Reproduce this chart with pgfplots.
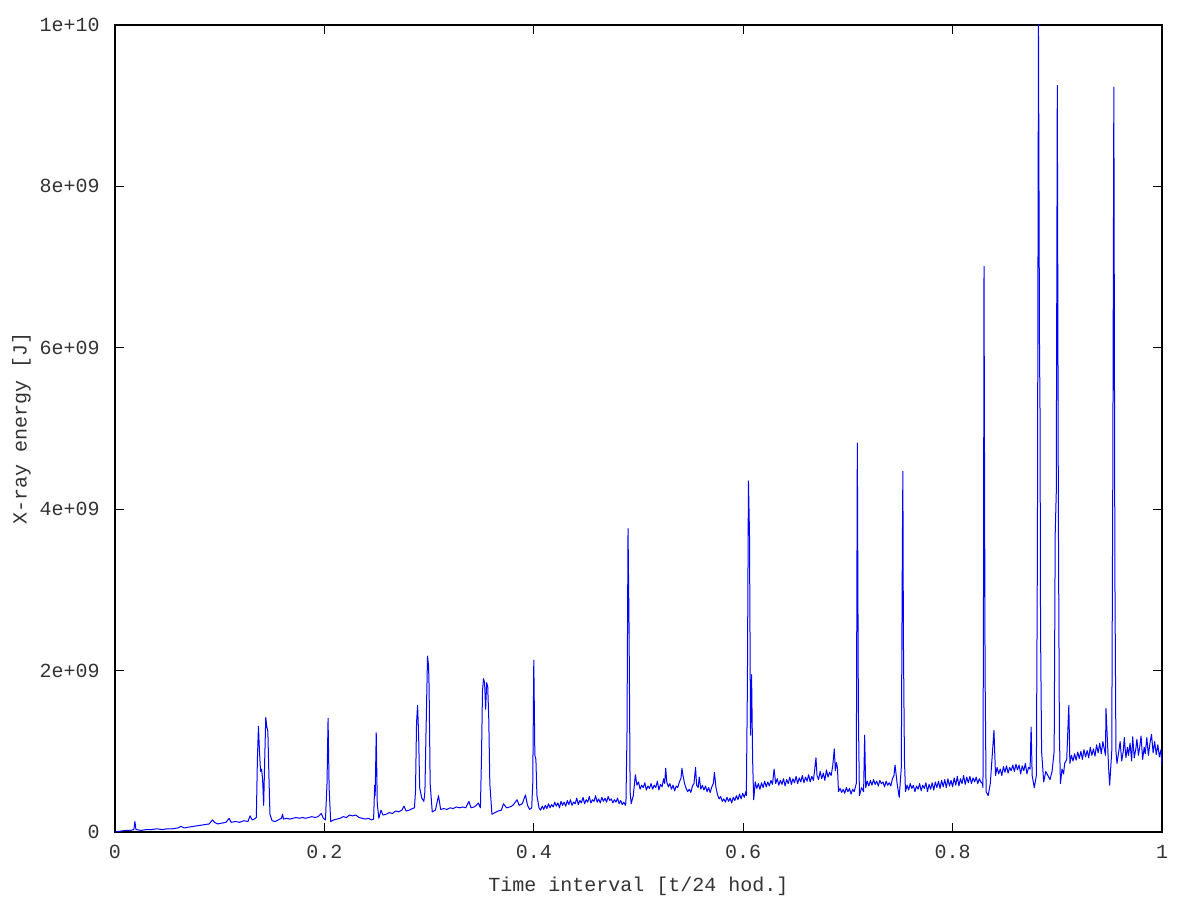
\documentclass[border=0pt]{standalone}
\usepackage{fontspec}
\setmainfont{Liberation Mono}
\usepackage{pgfplots}
\pgfplotsset{compat=1.18}
\usepackage{pgfplotstable}

% energy in units of 1e9 J
\pgfplotstableread{
x y
0.000 0.00
0.005 0.01
0.010 0.02
0.015 0.02
0.018 0.03
0.019 0.13
0.020 0.03
0.025 0.02
0.030 0.03
0.035 0.03
0.040 0.04
0.045 0.03
0.050 0.04
0.055 0.04
0.060 0.05
0.063 0.07
0.066 0.05
0.070 0.06
0.075 0.07
0.080 0.08
0.085 0.09
0.090 0.10
0.093 0.15
0.095 0.12
0.098 0.10
0.102 0.11
0.106 0.12
0.109 0.17
0.111 0.12
0.115 0.13
0.119 0.12
0.123 0.14
0.127 0.13
0.129 0.20
0.131 0.15
0.133 0.16
0.135 0.18
0.136 0.90
0.137 1.31
0.138 1.00
0.139 0.75
0.140 0.78
0.141 0.65
0.142 0.33
0.143 0.90
0.144 1.42
0.145 1.30
0.146 1.25
0.147 0.70
0.148 0.22
0.150 0.14
0.153 0.13
0.156 0.15
0.159 0.17
0.160 0.22
0.161 0.16
0.164 0.17
0.167 0.16
0.170 0.17
0.173 0.18
0.176 0.17
0.179 0.18
0.182 0.17
0.185 0.18
0.188 0.19
0.191 0.18
0.194 0.19
0.197 0.23
0.199 0.17
0.201 0.15
0.2025 0.60
0.2035 1.41
0.2045 0.55
0.206 0.13
0.209 0.15
0.212 0.16
0.215 0.17
0.218 0.19
0.221 0.18
0.224 0.21
0.227 0.20
0.230 0.21
0.233 0.18
0.236 0.17
0.239 0.16
0.242 0.17
0.245 0.15
0.247 0.16
0.248 0.58
0.2485 0.45
0.2495 1.23
0.2505 0.35
0.252 0.17
0.254 0.27
0.256 0.21
0.259 0.22
0.262 0.24
0.265 0.23
0.268 0.26
0.271 0.25
0.274 0.27
0.276 0.32
0.278 0.26
0.281 0.27
0.284 0.29
0.286 0.30
0.287 0.50
0.288 1.35
0.289 1.57
0.290 1.20
0.291 0.55
0.293 0.42
0.295 0.38
0.296 0.50
0.297 1.20
0.2985 2.18
0.2995 2.05
0.300 1.80
0.301 0.60
0.303 0.25
0.306 0.27
0.309 0.45
0.311 0.28
0.314 0.29
0.317 0.28
0.320 0.30
0.323 0.29
0.326 0.31
0.329 0.30
0.332 0.31
0.335 0.30
0.338 0.38
0.340 0.30
0.343 0.31
0.345 0.33
0.347 0.36
0.349 0.30
0.350 0.90
0.351 1.75
0.352 1.90
0.353 1.85
0.354 1.52
0.355 1.85
0.356 1.80
0.357 1.40
0.358 0.60
0.360 0.22
0.363 0.24
0.366 0.26
0.369 0.27
0.371 0.35
0.374 0.30
0.377 0.31
0.380 0.33
0.384 0.40
0.386 0.33
0.389 0.35
0.392 0.46
0.394 0.33
0.396 0.28
0.398 0.30
0.399 0.60
0.400 2.13
0.401 0.95
0.402 0.90
0.403 0.45
0.405 0.30
0.4065 0.27
0.408 0.32
0.4095 0.28
0.411 0.33
0.4125 0.29
0.414 0.35
0.4155 0.30
0.417 0.34
0.4185 0.31
0.420 0.37
0.4215 0.32
0.423 0.36
0.4245 0.30
0.426 0.38
0.4275 0.33
0.429 0.37
0.4305 0.32
0.432 0.39
0.4335 0.34
0.435 0.40
0.4365 0.33
0.438 0.37
0.4395 0.35
0.441 0.42
0.4425 0.34
0.444 0.39
0.4455 0.36
0.447 0.43
0.4485 0.35
0.450 0.40
0.4515 0.37
0.453 0.44
0.4545 0.36
0.456 0.40
0.4575 0.38
0.459 0.45
0.4605 0.37
0.462 0.41
0.4635 0.36
0.465 0.43
0.4665 0.38
0.468 0.42
0.4695 0.37
0.471 0.44
0.4725 0.39
0.474 0.41
0.4755 0.36
0.477 0.40
0.4785 0.37
0.480 0.42
0.4815 0.35
0.483 0.39
0.4845 0.34
0.486 0.37
0.4875 0.33
0.488 0.36
0.489 1.20
0.490 3.76
0.491 2.50
0.492 0.50
0.493 0.35
0.495 0.45
0.497 0.71
0.4985 0.58
0.500 0.62
0.5015 0.53
0.503 0.58
0.5045 0.55
0.506 0.61
0.5075 0.52
0.509 0.57
0.5105 0.54
0.512 0.60
0.5135 0.53
0.515 0.58
0.5165 0.55
0.518 0.63
0.5195 0.52
0.521 0.59
0.5225 0.56
0.524 0.66
0.525 0.60
0.526 0.79
0.527 0.62
0.5285 0.56
0.530 0.60
0.5315 0.53
0.533 0.58
0.5345 0.51
0.536 0.57
0.5375 0.55
0.539 0.62
0.5405 0.66
0.5415 0.79
0.5425 0.70
0.544 0.60
0.5455 0.54
0.547 0.50
0.5485 0.53
0.550 0.49
0.5515 0.57
0.553 0.60
0.5545 0.80
0.5555 0.58
0.557 0.55
0.558 0.68
0.5595 0.53
0.561 0.58
0.5625 0.52
0.564 0.57
0.5655 0.50
0.567 0.55
0.5685 0.49
0.570 0.56
0.5715 0.60
0.5725 0.74
0.574 0.55
0.5755 0.46
0.577 0.41
0.5785 0.44
0.580 0.38
0.5815 0.41
0.583 0.37
0.5845 0.43
0.586 0.38
0.5875 0.42
0.589 0.36
0.5905 0.43
0.592 0.39
0.5935 0.45
0.595 0.40
0.5965 0.47
0.598 0.41
0.5995 0.48
0.601 0.43
0.6025 0.50
0.603 0.45
0.604 1.80
0.605 4.35
0.606 3.70
0.607 1.20
0.608 1.95
0.609 0.90
0.610 0.40
0.6115 0.62
0.613 0.54
0.6145 0.60
0.616 0.53
0.6175 0.61
0.619 0.55
0.6205 0.63
0.622 0.56
0.6235 0.62
0.625 0.57
0.6265 0.64
0.628 0.59
0.6295 0.78
0.631 0.60
0.6325 0.66
0.634 0.58
0.6355 0.64
0.637 0.59
0.6385 0.66
0.640 0.57
0.6415 0.65
0.643 0.60
0.6445 0.68
0.646 0.59
0.6475 0.66
0.649 0.61
0.6505 0.69
0.652 0.60
0.6535 0.67
0.655 0.62
0.6565 0.70
0.658 0.61
0.6595 0.68
0.661 0.63
0.6625 0.71
0.664 0.62
0.6655 0.69
0.667 0.64
0.668 0.74
0.6695 0.92
0.6705 0.70
0.672 0.65
0.6735 0.75
0.675 0.66
0.6765 0.73
0.678 0.64
0.6795 0.77
0.681 0.68
0.6825 0.74
0.684 0.70
0.6855 0.82
0.687 1.03
0.688 0.76
0.689 0.86
0.690 0.80
0.691 0.50
0.6925 0.54
0.694 0.49
0.6955 0.53
0.697 0.48
0.6985 0.55
0.700 0.50
0.7015 0.54
0.703 0.47
0.7045 0.53
0.706 0.50
0.708 0.60
0.709 4.82
0.710 1.50
0.711 0.45
0.713 0.55
0.715 0.50
0.716 1.20
0.717 0.55
0.7185 0.63
0.720 0.57
0.7215 0.64
0.723 0.58
0.7245 0.65
0.726 0.59
0.7275 0.63
0.729 0.57
0.7305 0.64
0.732 0.60
0.7335 0.62
0.735 0.56
0.7365 0.63
0.738 0.58
0.7395 0.61
0.741 0.57
0.7425 0.66
0.744 0.70
0.745 0.83
0.746 0.72
0.747 0.60
0.749 0.43
0.751 0.80
0.752 3.50
0.7525 4.47
0.753 2.40
0.754 0.90
0.755 0.50
0.7565 0.58
0.758 0.52
0.7595 0.60
0.761 0.54
0.7625 0.58
0.764 0.50
0.7655 0.57
0.767 0.53
0.7685 0.60
0.770 0.51
0.7715 0.58
0.773 0.54
0.7745 0.61
0.776 0.50
0.7775 0.59
0.779 0.53
0.7805 0.61
0.782 0.52
0.7835 0.62
0.785 0.55
0.7865 0.63
0.788 0.54
0.7895 0.64
0.791 0.56
0.7925 0.65
0.794 0.55
0.7955 0.66
0.797 0.57
0.7985 0.64
0.800 0.56
0.8015 0.67
0.803 0.58
0.8045 0.69
0.806 0.57
0.8075 0.66
0.809 0.60
0.8105 0.70
0.812 0.59
0.8135 0.68
0.815 0.61
0.8165 0.69
0.818 0.60
0.8195 0.67
0.821 0.62
0.8225 0.68
0.824 0.60
0.8255 0.66
0.827 0.62
0.8285 0.60
0.829 0.55
0.8295 2.87
0.830 7.01
0.831 2.00
0.832 0.50
0.834 0.45
0.836 0.60
0.8395 1.26
0.841 0.70
0.8425 0.80
0.844 0.72
0.8455 0.78
0.847 0.70
0.8485 0.81
0.850 0.74
0.8515 0.82
0.853 0.73
0.8545 0.80
0.856 0.76
0.8575 0.83
0.859 0.75
0.8605 0.84
0.862 0.77
0.8635 0.83
0.865 0.72
0.8665 0.82
0.868 0.76
0.8695 0.85
0.871 0.72
0.8725 0.80
0.874 0.78
0.875 1.30
0.876 0.70
0.878 0.55
0.880 0.70
0.881 3.50
0.882 10.00
0.883 6.00
0.8835 5.20
0.884 2.50
0.885 1.00
0.887 0.62
0.889 0.75
0.891 0.70
0.893 0.65
0.895 0.75
0.897 1.00
0.898 3.70
0.899 4.20
0.900 9.25
0.901 4.00
0.902 1.20
0.903 0.60
0.9045 0.78
0.906 0.72
0.907 0.85
0.909 0.90
0.911 1.57
0.912 0.85
0.9135 0.95
0.915 0.88
0.9165 0.97
0.918 0.89
0.9195 0.99
0.921 0.91
0.9225 1.00
0.924 0.90
0.9255 1.02
0.927 0.93
0.9285 1.01
0.930 0.92
0.9315 1.05
0.933 0.95
0.9345 1.03
0.936 0.94
0.9375 1.08
0.939 0.98
0.9405 1.10
0.942 0.97
0.9435 1.12
0.945 1.02
0.946 0.95
0.9465 1.53
0.949 0.80
0.950 0.58
0.952 1.00
0.953 4.40
0.954 9.23
0.955 3.20
0.956 1.00
0.957 0.85
0.9585 0.98
0.960 1.12
0.9615 0.88
0.963 1.00
0.964 1.17
0.9655 0.92
0.967 1.05
0.968 0.95
0.9695 1.10
0.971 0.88
0.972 1.18
0.9735 0.92
0.975 1.03
0.976 1.15
0.9775 0.95
0.979 1.08
0.980 1.19
0.9815 0.90
0.983 1.05
0.984 0.97
0.9855 1.17
0.987 0.95
0.9885 1.10
0.990 1.21
0.9915 0.98
0.993 1.12
0.9945 0.96
0.996 1.08
0.9975 0.93
0.999 1.02
1.000 0.82
}\xraydata

\begin{document}
\begin{tikzpicture}
\useasboundingbox (-57.5pt,-34pt) rectangle (542.5pt,416pt);
\begin{axis}[
    at={(0pt,0pt)}, anchor=south west,
    scale only axis,
    width=523.5pt, height=403.5pt,
    xmin=0, xmax=1, ymin=0, ymax=10,
    xtick={0,0.2,0.4,0.6,0.8,1},
    xticklabels={0,0.2,0.4,0.6,0.8,1},
    ytick={0,2,4,6,8,10},
    yticklabels={0,2e+09,4e+09,6e+09,8e+09,1e+10},
    tick align=inside,
    major tick length=4.5pt,
    minor tick num=0,
    tick style={black, line width=0.5pt},
    axis line style={black, line width=0.6pt},
    every tick label/.append style={font=\fontsize{10}{12}\selectfont, text=black!80},
    xticklabel style={anchor=center, yshift=-9.75pt},
    yticklabel style={anchor=east, inner sep=0pt, xshift=-7.5pt},
    label style={font=\fontsize{10}{12}\selectfont, text=black!80},
    xlabel={Time interval [t/24 hod.]},
    ylabel={X-ray energy [J]},
    xlabel style={at={(axis description cs:0.5,-0.0669)}, anchor=center},
    ylabel style={at={(axis description cs:-0.0893,0.5)}, anchor=center},
]
\addplot[blue, line width=0.5pt, line join=round] table[x=x, y=y] {\xraydata};
\end{axis}
\end{tikzpicture}
\end{document}
